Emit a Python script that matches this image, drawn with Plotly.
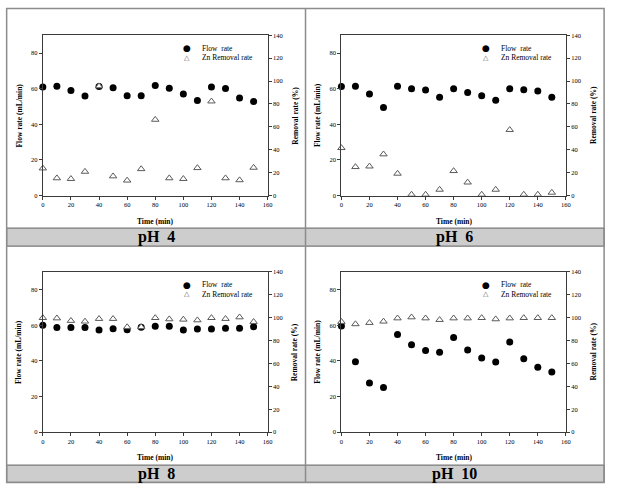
import plotly.graph_objects as go

time_min = [0, 10, 20, 30, 40, 50, 60, 70, 80, 90, 100, 110, 120, 130, 140, 150]

panel_labels = ["pH  4", "pH  6", "pH  8", "pH  10"]

flow_ph4 = [60.9, 61.4, 59.0, 55.9, 61.2, 60.5, 56.1, 56.1, 61.8, 60.3, 57.0, 53.3, 61.0, 60.1, 54.8, 52.8]
removal_ph4 = [23.8, 15.2, 14.6, 20.9, 95.5, 16.9, 13.2, 23.2, 66.3, 15.2, 14.6, 24.1, 82.3, 15.2, 13.5, 24.4]

flow_ph6 = [61.2, 61.4, 57.0, 49.5, 61.4, 60.0, 59.2, 55.2, 60.0, 57.9, 56.1, 53.5, 60.0, 59.4, 58.7, 55.2]
removal_ph6 = [41.6, 25.0, 25.5, 36.1, 19.2, 0.9, 0.9, 5.2, 21.5, 11.5, 0.9, 5.2, 57.4, 0.9, 0.9, 2.6]

flow_ph8 = [60.0, 58.7, 58.7, 58.7, 57.4, 58.1, 57.5, 58.9, 59.4, 59.4, 57.4, 57.9, 57.9, 58.3, 58.3, 59.2]
removal_ph8 = [99.8, 99.5, 97.3, 96.7, 99.0, 99.0, 91.8, 91.8, 99.8, 98.7, 98.4, 97.8, 99.8, 99.0, 100.4, 96.4]

flow_ph10 = [59.6, 39.5, 27.6, 25.0, 54.8, 49.1, 45.8, 44.9, 53.1, 46.1, 41.6, 39.4, 50.6, 41.2, 36.4, 33.8]
removal_ph10 = [96.4, 94.4, 95.5, 96.7, 99.5, 100.4, 99.5, 98.1, 99.5, 99.5, 99.8, 98.7, 99.5, 99.8, 99.8, 99.8]

flow_series = [flow_ph4, flow_ph6, flow_ph8, flow_ph10]
removal_series = [removal_ph4, removal_ph6, removal_ph8, removal_ph10]

x_ticks = [0, 20, 40, 60, 80, 100, 120, 140, 160]
flow_ticks = [0, 20, 40, 60, 80]
removal_ticks = [0, 20, 40, 60, 80, 100, 120, 140]

W, H = 618, 494
SERIF = "Liberation Serif, Times New Roman, serif"


def px(x):
    return x / W


def py(y):
    return 1 - y / H


# plot-area pixel boxes (left, right, top, bottom)
boxes = [
    (41.3, 268.7, 31.7, 194.3),
    (343.3, 570.3, 31.7, 194.3),
    (41.3, 268.7, 271.7, 434.3),
    (343.3, 570.3, 271.7, 434.3),
]

fig = go.Figure()
layout = dict(
    width=W, height=H,
    margin=dict(l=0, r=0, t=0, b=0),
    paper_bgcolor="white", plot_bgcolor="white",
    showlegend=False,
    font=dict(family=SERIF, color="black", size=7),
)

AX_COL = "#3a3a3a"
tickfont = dict(family=SERIF, size=6.5, color="black")
annotations = []
shapes = []

for i in range(4):
    l, r, t, b = boxes[i]
    xa = "x" if i == 0 else f"x{i + 1}"
    ya_n = 2 * i + 1
    yb_n = 2 * i + 2
    ya = "y" if ya_n == 1 else f"y{ya_n}"
    yb = f"y{yb_n}"
    xkey = "xaxis" if i == 0 else f"xaxis{i + 1}"
    yakey = "yaxis" if ya_n == 1 else f"yaxis{ya_n}"
    ybkey = f"yaxis{yb_n}"

    layout[xkey] = dict(
        domain=[px(l), px(r)], anchor=ya, range=[0, 160],
        tickmode="array", tickvals=x_ticks,
        showline=True, linecolor=AX_COL, linewidth=1, mirror=True,
        ticks="outside", ticklen=3, tickcolor=AX_COL, tickwidth=1,
        showgrid=False, zeroline=False, tickfont=tickfont,
    )
    layout[yakey] = dict(
        domain=[py(b), py(t)], anchor=xa, range=[0, 90],
        tickmode="array", tickvals=flow_ticks,
        showline=True, linecolor=AX_COL, linewidth=1,
        ticks="outside", ticklen=3, tickcolor=AX_COL, tickwidth=1,
        showgrid=False, zeroline=False, tickfont=tickfont,
    )
    layout[ybkey] = dict(
        overlaying=ya, anchor=xa, side="right", range=[0, 140],
        tickmode="array", tickvals=removal_ticks,
        showline=True, linecolor=AX_COL, linewidth=1,
        ticks="outside", ticklen=3, tickcolor=AX_COL, tickwidth=1,
        showgrid=False, zeroline=False, tickfont=tickfont,
    )

    fig.add_trace(go.Scatter(
        x=time_min, y=flow_series[i], xaxis=xa, yaxis=ya, mode="markers",
        name="Flow  rate", cliponaxis=False,
        marker=dict(symbol="circle", size=7, color="black"),
    ))
    fig.add_trace(go.Scatter(
        x=time_min, y=removal_series[i], xaxis=xa, yaxis=yb, mode="markers",
        name="Zn Removal rate", cliponaxis=False,
        marker=dict(symbol="triangle-up", size=6.5, color="white",
                    line=dict(color="#5a5a5a", width=1)),
    ))

    cx = (l + r) / 2
    cy = (t + b) / 2
    title_font = dict(family=SERIF, size=7.5, color="black")
    annotations.append(dict(
        text="<b>Time (min)</b>", x=px(cx), y=py(b + 26), xref="paper", yref="paper",
        showarrow=False, font=title_font, xanchor="center", yanchor="middle"))
    annotations.append(dict(
        text="<b>Flow rate (mL/min)</b>", x=px(l - 24), y=py(cy), xref="paper", yref="paper",
        showarrow=False, font=title_font, textangle=-90, xanchor="center", yanchor="middle"))
    annotations.append(dict(
        text="<b>Removal rate (%)</b>", x=px(r + 28), y=py(cy), xref="paper", yref="paper",
        showarrow=False, font=title_font, textangle=-90, xanchor="center", yanchor="middle"))

    # legend (inside upper right)
    lx = l + 146
    annotations.append(dict(
        text="●", x=px(lx), y=py(t + 13), xref="paper", yref="paper", showarrow=False,
        font=dict(family="DejaVu Sans", size=9, color="black"),
        xanchor="center", yanchor="middle"))
    annotations.append(dict(
        text="△", x=px(lx), y=py(t + 22.6), xref="paper", yref="paper", showarrow=False,
        font=dict(family="DejaVu Sans", size=7, color="#5a5a5a"),
        xanchor="center", yanchor="middle"))
    annotations.append(dict(
        text="Flow\u00a0\u00a0rate", x=px(lx + 13), y=py(t + 13), xref="paper", yref="paper",
        showarrow=False, font=dict(family=SERIF, size=7.5, color="black"),
        xanchor="left", yanchor="middle"))
    annotations.append(dict(
        text="Zn Removal rate", x=px(lx + 13), y=py(t + 22.6), xref="paper", yref="paper",
        showarrow=False, font=dict(family=SERIF, size=7.5, color="black"),
        xanchor="left", yanchor="middle"))

# frame, divider and label bands
FRAME = "#8c8c8c"
L, R, T, B = 4.7, 609.0, 4.5, 485.3
MID = 307.0
bands = [(227.3, 245.7), (467.7, 485.3)]
for (bt, bb) in bands:
    shapes.append(dict(type="rect", xref="paper", yref="paper",
                       x0=px(L), x1=px(R), y0=py(bb), y1=py(bt),
                       fillcolor="#cdcdcd", line=dict(color="#7a7a7a", width=1.2), layer="below"))
shapes.append(dict(type="rect", xref="paper", yref="paper",
                   x0=px(L), x1=px(R), y0=py(B), y1=py(T),
                   line=dict(color=FRAME, width=1.5)))
shapes.append(dict(type="line", xref="paper", yref="paper",
                   x0=px(MID), x1=px(MID), y0=py(B), y1=py(T),
                   line=dict(color=FRAME, width=1.5)))

centers = [((L + MID) / 2, sum(bands[0]) / 2), ((MID + R) / 2, sum(bands[0]) / 2),
           ((L + MID) / 2, sum(bands[1]) / 2), ((MID + R) / 2, sum(bands[1]) / 2)]
for i, (cx, cy) in enumerate(centers):
    annotations.append(dict(
        text=f"<b>{panel_labels[i]}</b>", x=px(cx), y=py(cy), xref="paper", yref="paper",
        showarrow=False, font=dict(family=SERIF, size=16, color="black"),
        xanchor="center", yanchor="middle"))

layout["annotations"] = annotations
layout["shapes"] = shapes
fig.update_layout(**layout)
fig.write_html(
    "out.html",
    config={"displayModeBar": False},
    post_script="document.body.style.margin='0';document.body.style.overflow='hidden';",
)
